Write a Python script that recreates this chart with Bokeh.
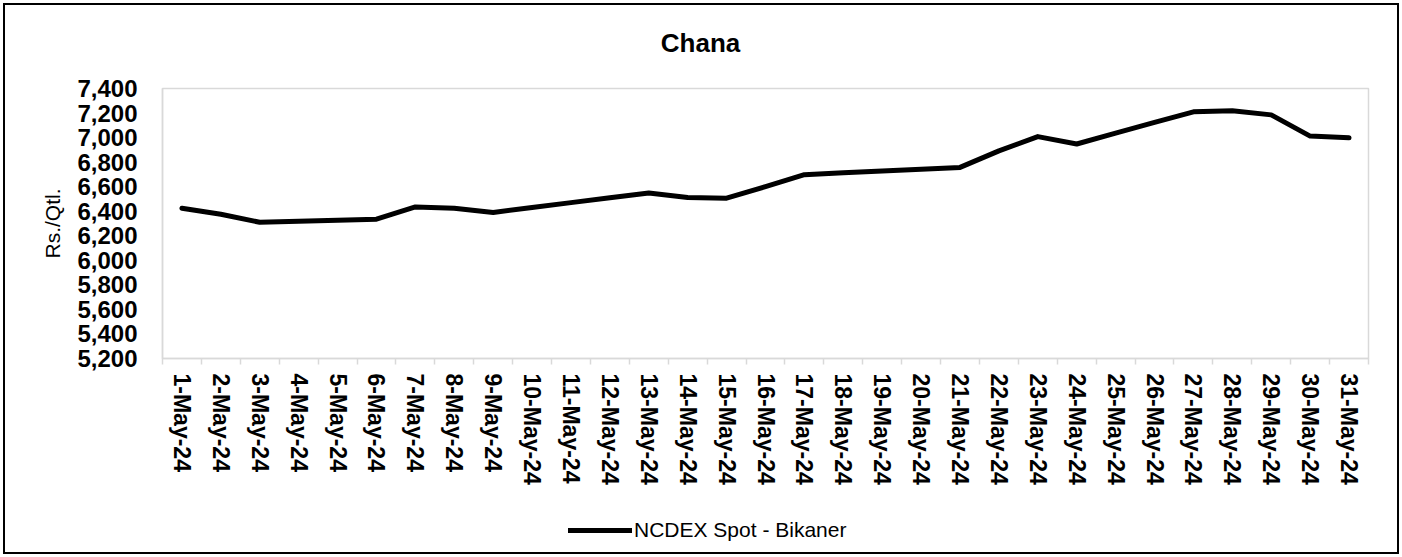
from bokeh.plotting import figure
from bokeh.layouts import column
from bokeh.models import (FixedTicker, Range1d, Legend, LegendItem, Label,
                          NumeralTickFormatter)
from bokeh.embed import file_html
from bokeh.resources import INLINE

# ---- data ----
dates = ["1-May-24", "2-May-24", "3-May-24", "4-May-24", "5-May-24", "6-May-24",
         "7-May-24", "8-May-24", "9-May-24", "10-May-24", "11-May-24", "12-May-24",
         "13-May-24", "14-May-24", "15-May-24", "16-May-24", "17-May-24", "18-May-24",
         "19-May-24", "20-May-24", "21-May-24", "22-May-24", "23-May-24", "24-May-24",
         "25-May-24", "26-May-24", "27-May-24", "28-May-24", "29-May-24", "30-May-24",
         "31-May-24"]
prices = [6425, 6375, 6310, 6318, 6326, 6335, 6435, 6425, 6390, 6430, 6470, 6510,
          6548, 6512, 6506, 6600, 6698, 6713, 6728, 6742, 6757, 6892, 7008, 6948,
          7036, 7124, 7210, 7218, 7185, 7012, 6998]
y_ticks = [5200, 5400, 5600, 5800, 6000, 6200, 6400, 6600, 6800, 7000, 7200, 7400]
series_name = "NCDEX Spot - Bikaner"
chart_title = "Chana"
y_label = "Rs./Qtl."

FONT = "Liberation Sans"
GRAY = "#d9d9d9"
W = 1392

xpos = list(range(1, len(dates) + 1))
bounds = [i + 0.5 for i in range(0, len(dates) + 1)]
LINE_STYLE = dict(line_width=5, line_color="black",
                  line_join="round", line_cap="round")


def strip(height):
    s = figure(width=W, height=height, x_range=Range1d(0, 1), y_range=Range1d(0, 1),
               output_backend="svg", toolbar_location=None,
               x_axis_type=None, y_axis_type=None, min_border=0)
    s.xgrid.visible = False
    s.ygrid.visible = False
    s.outline_line_color = None
    s.border_fill_color = "white"
    s.background_fill_color = "white"
    return s


# ---- title strip ----
t = strip(60)
t.add_layout(Label(x=538, y=23, x_units="screen", y_units="screen",
                   text=chart_title, text_align="center", text_baseline="middle",
                   text_font=FONT, text_font_size="26px", text_font_style="bold",
                   text_color="black"))

# ---- main chart ----
p = figure(width=W, height=440,
           x_range=Range1d(0.5, len(dates) + 0.5),
           y_range=Range1d(y_ticks[0], y_ticks[-1]),
           output_backend="svg", toolbar_location=None,
           min_border_left=157, min_border_right=29,
           min_border_top=23, min_border_bottom=147)

p.xgrid.visible = False
p.ygrid.visible = False
p.outline_line_color = GRAY
p.outline_line_width = 1.5
p.background_fill_color = "white"
p.border_fill_color = "white"

r = p.line(xpos, prices, **LINE_STYLE)

# x axis
p.xaxis.ticker = FixedTicker(ticks=xpos, minor_ticks=bounds)
p.xaxis.major_label_overrides = {x: d for x, d in zip(xpos, dates)}
p.xaxis.major_label_orientation = "vertical"
p.xaxis.major_tick_out = 0
p.xaxis.major_tick_in = 0
p.xaxis.minor_tick_out = 6
p.xaxis.minor_tick_in = 0
p.xaxis.minor_tick_line_color = GRAY
p.xaxis.minor_tick_line_width = 1.5
p.xaxis.axis_line_color = GRAY
p.xaxis.axis_line_width = 1.5
p.xaxis.major_label_standoff = 9
p.xaxis.major_label_text_font = FONT
p.xaxis.major_label_text_font_size = "23px"
p.xaxis.major_label_text_font_style = "bold"
p.xaxis.major_label_text_color = "black"

# y axis
p.yaxis.ticker = FixedTicker(ticks=y_ticks, minor_ticks=[])
p.yaxis.formatter = NumeralTickFormatter(format="0,0")
p.yaxis.major_tick_out = 0
p.yaxis.major_tick_in = 0
p.yaxis.minor_tick_out = 0
p.yaxis.minor_tick_in = 0
p.yaxis.axis_line_color = GRAY
p.yaxis.axis_line_width = 1.5
p.yaxis.major_label_standoff = 25
p.yaxis.major_label_text_font = FONT
p.yaxis.major_label_text_font_size = "24px"
p.yaxis.major_label_text_font_style = "bold"
p.yaxis.major_label_text_color = "black"
p.yaxis.axis_label = y_label
p.yaxis.axis_label_standoff = 10
p.yaxis.axis_label_text_font = FONT
p.yaxis.axis_label_text_font_size = "21px"
p.yaxis.axis_label_text_font_style = "normal"
p.yaxis.axis_label_text_color = "black"

# ---- legend strip under the chart ----
q = strip(47)
q.y_range = Range1d(0, 47)
# same series, outside this strip's range: only its legend sample shows
sample = q.line(xpos, prices, **LINE_STYLE)

legend = Legend(items=[LegendItem(label=series_name, renderers=[sample])],
                location=(406, 10), orientation="horizontal",
                padding=0, margin=0, spacing=0,
                glyph_width=64, glyph_height=20, label_standoff=2,
                label_text_font=FONT, label_text_font_size="21px",
                label_text_color="black",
                border_line_color=None, background_fill_alpha=0)
q.add_layout(legend, "center")

layout = column(t, p, q, spacing=0,
                styles={"margin": "5px", "outline": "2px solid black"})

open("out.html", "w").write(file_html(layout, INLINE))
